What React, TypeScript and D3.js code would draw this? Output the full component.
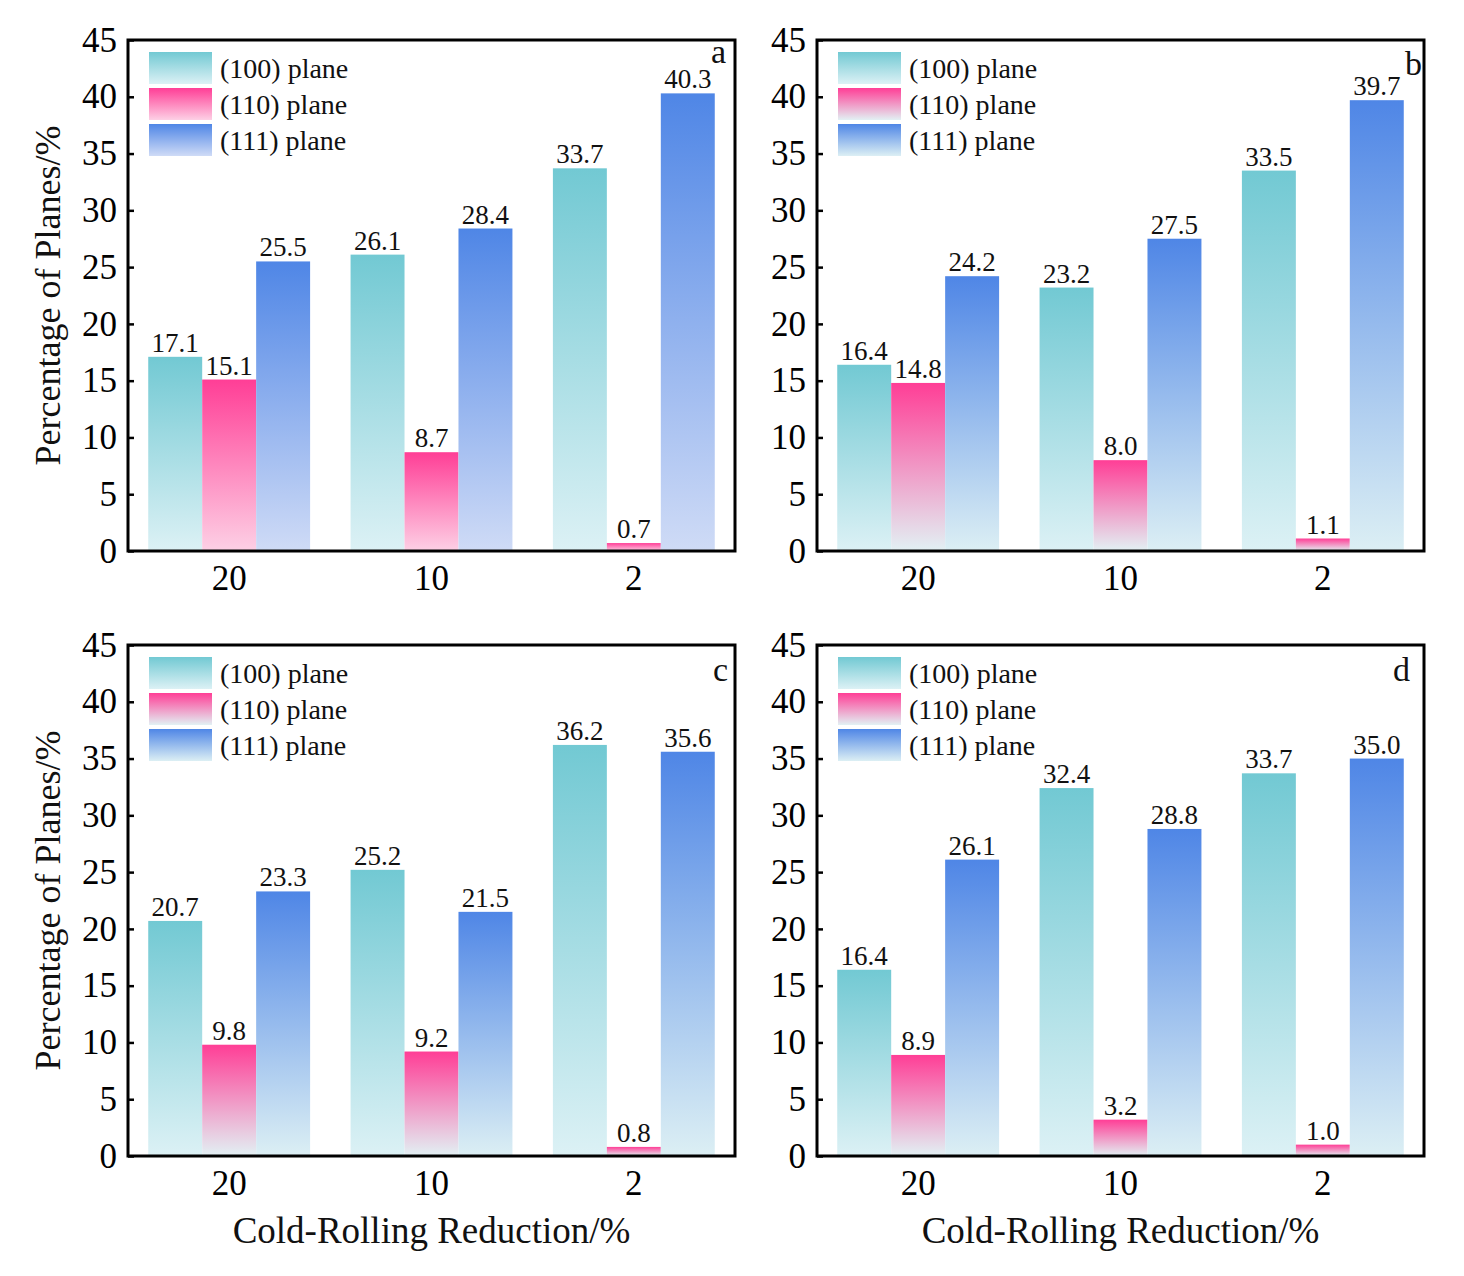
import { useEffect, useRef } from "react";
import * as d3 from "d3";

const CATEGORIES = ["20", "10", "2"];
const SERIES = ["(100) plane", "(110) plane", "(111) plane"];
const Y_TICKS = [0, 5, 10, 15, 20, 25, 30, 35, 40, 45];

const A_100 = [17.1, 26.1, 33.7];
const A_110 = [15.1, 8.7, 0.7];
const A_111 = [25.5, 28.4, 40.3];

const B_100 = [16.4, 23.2, 33.5];
const B_110 = [14.8, 8.0, 1.1];
const B_111 = [24.2, 27.5, 39.7];

const C_100 = [20.7, 25.2, 36.2];
const C_110 = [9.8, 9.2, 0.8];
const C_111 = [23.3, 21.5, 35.6];

const D_100 = [16.4, 32.4, 33.7];
const D_110 = [8.9, 3.2, 1.0];
const D_111 = [26.1, 28.8, 35.0];

const PANEL_IDS = ["a", "b", "c", "d"];
const PANEL_VALUES = [
  [A_100, A_110, A_111],
  [B_100, B_110, B_111],
  [C_100, C_110, C_111],
  [D_100, D_110, D_111],
];

// colours: top of each bar, and bottom (panel a fades to tint, others to pale cyan)
const TOP = ["#72c9d3", "#ff3e96", "#4f86e6"];
const BOTTOM_A = ["#dcf1f5", "#fdd0e5", "#cfdbf6"];
const BOTTOM_REST = ["#dcf1f5", "#e2f1f4", "#dceff4"];

const FONT = "'Liberation Serif', 'Times New Roman', serif";

// layout per panel: left, top of plot area; letter offset from top-right corner
const LAYOUT = [
  { x: 128, y: 40, lx: -9, ly: 23, yTitle: true, xTitle: false },
  { x: 817, y: 40, lx: -2, ly: 35, yTitle: false, xTitle: false },
  { x: 128, y: 645, lx: -7, ly: 36, yTitle: true, xTitle: true },
  { x: 817, y: 645, lx: -14, ly: 36, yTitle: false, xTitle: true },
];
const W = 607;
const H = 511;

export default function App() {
  const svgRef = useRef<SVGSVGElement>(null);

  useEffect(() => {
    const svg = d3.select(svgRef.current);
    svg.selectAll("*").remove();

    const defs = svg.append("defs");
    const makeGrad = (id: string, top: string, bottom: string) => {
      const g = defs.append("linearGradient").attr("id", id)
        .attr("x1", 0).attr("y1", 0).attr("x2", 0).attr("y2", 1);
      g.append("stop").attr("offset", "0%").attr("stop-color", top);
      g.append("stop").attr("offset", "100%").attr("stop-color", bottom);
    };
    TOP.forEach((c, i) => {
      makeGrad(`ga${i}`, c, BOTTOM_A[i]);
      makeGrad(`gr${i}`, c, BOTTOM_REST[i]);
    });

    const x0 = d3.scaleBand<string>().domain(CATEGORIES).range([0, W])
      .paddingInner(0.2).paddingOuter(0.1);
    const x1 = d3.scaleBand<number>().domain([0, 1, 2]).range([0, x0.bandwidth()]);
    const y = d3.scaleLinear().domain([0, 45]).range([H, 0]);
    const fmt = d3.format(".1f");

    PANEL_IDS.forEach((pid, pi) => {
      const L = LAYOUT[pi];
      const gp = pi === 0 ? "ga" : "gr";
      const g = svg.append("g").attr("transform", `translate(${L.x},${L.y})`);

      // Bars
      PANEL_VALUES[pi].forEach((vals, si) => {
        vals.forEach((v, ci) => {
          const bx = x0(CATEGORIES[ci])! + x1(si)!;
          g.append("rect")
            .attr("x", bx).attr("y", y(v))
            .attr("width", x1.bandwidth()).attr("height", H - y(v))
            .attr("fill", `url(#${gp}${si})`);
          g.append("text")
            .attr("x", bx + x1.bandwidth() / 2).attr("y", y(v) - 5)
            .attr("text-anchor", "middle")
            .attr("font-family", FONT).attr("font-size", 27).attr("fill", "#111")
            .text(fmt(v));
        });
      });

      // Legend
      SERIES.forEach((s, si) => {
        const ly = 12 + si * 36;
        g.append("rect")
          .attr("x", 21).attr("y", ly).attr("width", 63).attr("height", 32)
          .attr("fill", `url(#${gp}${si})`);
        g.append("text")
          .attr("x", 92).attr("y", ly + 16).attr("dy", "0.35em")
          .attr("font-family", FONT).attr("font-size", 28).attr("fill", "#111")
          .text(s);
      });

      // Axes
      g.append("g")
        .call(d3.axisLeft(y).tickValues(Y_TICKS).tickSizeInner(-6).tickSizeOuter(0).tickPadding(11))
        .call(ax => ax.select(".domain").remove())
        .call(ax => ax.selectAll(".tick line").attr("stroke", "#000").attr("stroke-width", 2.5))
        .call(ax => ax.selectAll(".tick text").attr("fill", "#000")
          .attr("font-family", FONT).attr("font-size", 35));

      g.append("g").attr("transform", `translate(0,${H})`)
        .call(d3.axisBottom(x0).tickSize(0).tickPadding(14))
        .call(ax => ax.select(".domain").remove())
        .call(ax => ax.selectAll(".tick text").attr("fill", "#000")
          .attr("font-family", FONT).attr("font-size", 35));

      // Frame
      g.append("rect")
        .attr("x", 0).attr("y", 0).attr("width", W).attr("height", H)
        .attr("fill", "none").attr("stroke", "#000").attr("stroke-width", 3);

      // Panel letter
      g.append("text")
        .attr("x", W + L.lx).attr("y", L.ly)
        .attr("text-anchor", "end")
        .attr("font-family", FONT).attr("font-size", 34).attr("fill", "#111")
        .text(pid);

      if (L.yTitle) {
        g.append("text")
          .attr("transform", `translate(-68,${H / 2}) rotate(-90)`)
          .attr("text-anchor", "middle")
          .attr("font-family", FONT).attr("font-size", 36).attr("fill", "#111")
          .text("Percentage of Planes/%");
      }
      if (L.xTitle) {
        g.append("text")
          .attr("x", W / 2).attr("y", H + 87)
          .attr("text-anchor", "middle")
          .attr("font-family", FONT).attr("font-size", 37).attr("fill", "#111")
          .text("Cold-Rolling Reduction/%");
      }
    });
  }, []);

  return (
    <svg
      ref={svgRef}
      width={1464}
      height={1276}
      style={{ position: "absolute", left: 0, top: 0, background: "#fff" }}
    />
  );
}
